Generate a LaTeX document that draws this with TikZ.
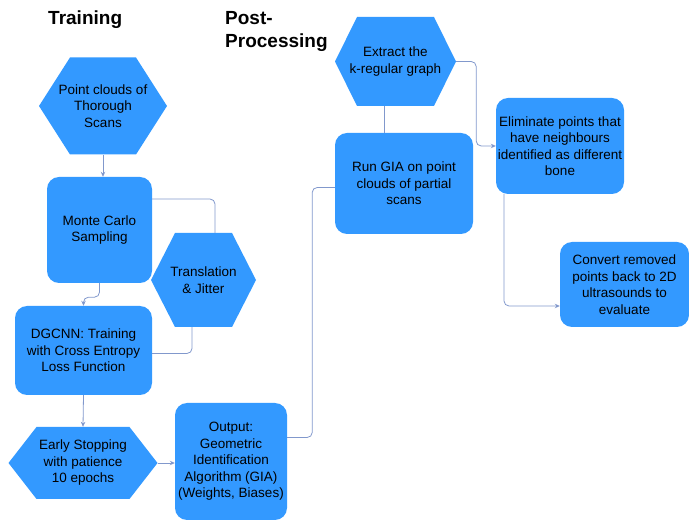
\documentclass[tikz,border=0pt]{standalone}
\usepackage{fontspec}
\setmainfont{Liberation Sans}
\usetikzlibrary{arrows.meta}
\definecolor{boxblue}{HTML}{3399FF}
\definecolor{linkblue}{HTML}{8198CC}

\begin{document}
\begin{tikzpicture}[x=1pt,y=-1pt,
  every node/.style={font=\fontsize{13.5}{16.5}\selectfont, align=center, inner sep=0pt},
  title/.style={font=\fontsize{19}{23}\selectfont\bfseries, align=left},
  roundbox/.style={fill=boxblue, rounded corners=12pt},
  hexa/.style={path picture={
    \fill[boxblue] (path picture bounding box.west)
      -- ([xshift=#1]path picture bounding box.north west)
      -- ([xshift=-#1]path picture bounding box.north east)
      -- (path picture bounding box.east)
      -- ([xshift=-#1]path picture bounding box.south east)
      -- ([xshift=#1]path picture bounding box.south west) -- cycle;}},
  link/.style={draw=linkblue, line width=0.8pt, rounded corners=5pt},
  flow/.style={link, -{Stealth[length=5pt,width=4.5pt]}},
]
  \useasboundingbox (0,0) rectangle (689,521);

  \node[title, anchor=base west] (trainTitle) at (48,25) {Training};
  \node[title, anchor=base west] (postTitle) at (225,48) {Post-\\Processing};

  \node[hexa=31pt, minimum width=128pt, minimum height=97pt] (pointClouds) at (103,106)
    {Point clouds of\\Thorough\\Scans};
  \node[roundbox, minimum width=105pt, minimum height=106pt] (monteCarlo) at (99.5,230)
    {Monte Carlo\\Sampling};
  \node[hexa=24pt, minimum width=105pt, minimum height=94pt] (translation) at (203.5,280)
    {Translation\\\& Jitter};
  \node[roundbox, minimum width=137pt, minimum height=89pt] (dgcnn) at (83.5,350.5)
    {DGCNN: Training\\with Cross Entropy\\Loss Function};
  \node[hexa=28pt, minimum width=149pt, minimum height=72pt] (earlyStop) at (83,463)
    {Early Stopping\\with patience\\10 epochs};
  \node[roundbox, minimum width=112pt, minimum height=117pt] (output) at (231,461.5)
    {Output:\\Geometric\\Identification\\Algorithm (GIA)\\(Weights, Biases)};

  \node[hexa=22pt, minimum width=121pt, minimum height=89pt] (extractGraph) at (395.5,61.5)
    {Extract the\\k-regular graph};
  \node[roundbox, minimum width=138pt, minimum height=101pt] (runGIA) at (404,183.5)
    {Run GIA on point\\clouds of partial\\scans};
  \node[roundbox, minimum width=128pt, minimum height=96pt] (eliminate) at (560,146)
    {Eliminate points that\\have neighbours\\identified as different\\bone};
  \node[roundbox, minimum width=129pt, minimum height=85pt] (convert) at (624.5,284.5)
    {Convert removed\\points back to 2D\\ultrasounds to\\evaluate};

  \draw[flow] (pointClouds.south) -- (pointClouds.south |- monteCarlo.north);
  \draw[flow] (monteCarlo.south) -- ++(0,14) -| (dgcnn.north);
  \draw[link] ([yshift=31pt]monteCarlo.east) -| ([xshift=11.5pt]translation.north);
  \draw[link] ([xshift=-11.5pt]translation.south) |- ([yshift=-3pt]dgcnn.east);
  \draw[flow] (dgcnn.south) -- (earlyStop.north);
  \draw[flow] (earlyStop.east) -- (output.west |- earlyStop.east);
  \draw[link] ([yshift=24pt]output.east) -- ++(25,0) |- ([yshift=-4pt]runGIA.west);
  \draw[link] ([xshift=-11.5pt]extractGraph.south) -- ([xshift=-11.5pt]extractGraph.south |- runGIA.north);
  \draw[flow] (extractGraph.east) -- ++(20,0) |- (eliminate.west);
  \draw[flow] ([xshift=-56pt]eliminate.south) |- ([yshift=-21.5pt]convert.west);
\end{tikzpicture}
\end{document}
